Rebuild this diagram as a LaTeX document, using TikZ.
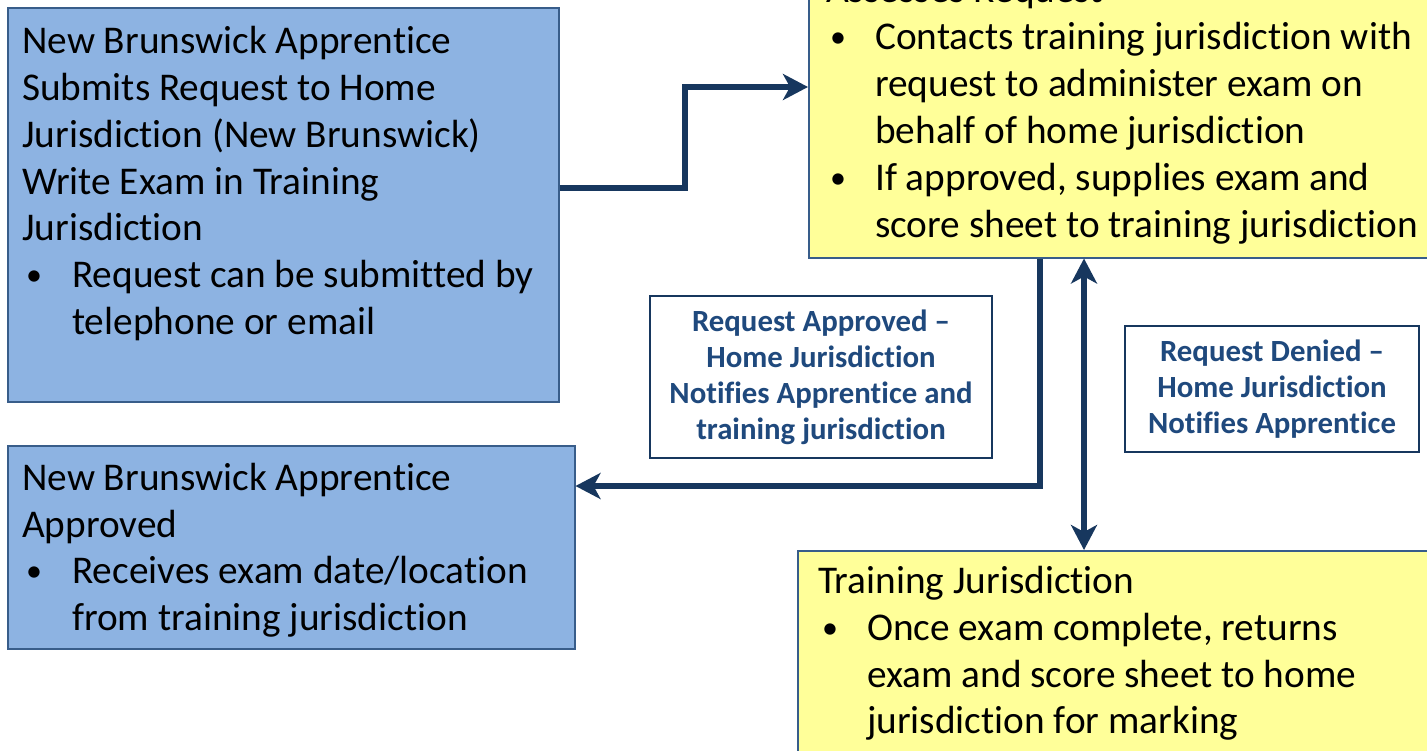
\documentclass[tikz,border=0pt]{standalone}
\usepackage{fontspec}
\setmainfont[Ligatures={NoCommon}]{Carlito}
\usetikzlibrary{arrows.meta}
\definecolor{bluefill}{HTML}{8DB3E2}
\definecolor{yellowfill}{HTML}{FFFF99}
\definecolor{boxedge}{HTML}{385D8A}
\definecolor{navy}{HTML}{17375E}
\definecolor{labeltext}{HTML}{1F497D}
\tikzset{
  box/.style={draw=boxedge, line width=1.5pt, rectangle, anchor=north west, inner sep=0pt},
  bluebox/.style={box, fill=bluefill},
  yellowbox/.style={box, fill=yellowfill},
  txt/.style={anchor=base west, inner sep=0pt, font=\fontsize{39.3}{47}\selectfont, text=black},
  bul/.style={anchor=base west, inner sep=0pt, font=\fontsize{32}{47}\selectfont, text=black},
  lbl/.style={draw=navy, line width=1.5pt, fill=white, align=center, inner sep=0pt,
    text=labeltext, font=\fontsize{30.8}{36}\selectfont\bfseries},
  conn/.style={draw=navy, line width=6pt},
  tip/.tip={Stealth[length=25pt,width=26pt,inset=7pt]}
}
\begin{document}
\begin{tikzpicture}[x=1pt,y=-1pt]
\useasboundingbox (0,0) rectangle (1427,750);
\clip (0,0) rectangle (1427,750);
% boxes
\node[bluebox, minimum width=551pt, minimum height=394pt] (A) at (7,7) {};
\node[bluebox, minimum width=567pt, minimum height=203pt] (B) at (7,445) {};
\node[yellowbox, minimum width=640pt, minimum height=297pt] (C) at (808,-40) {};
\node[yellowbox, minimum width=650pt, minimum height=250pt] (D) at (797,550) {};
% box A text
\node[txt] (a1) at (22,53) {New Brunswick Apprentice};
\node[txt] (a2) at (22,100) {Submits Request to Home};
\node[txt] (a3) at (22,147) {Jurisdiction (New Brunswick)};
\node[txt] (a4) at (22,194) {Write Exam in Training};
\node[txt] (a5) at (22,240) {Jurisdiction};
\node[bul] (ab1) at (26,285) {•};
\node[txt] (a6) at (72,287) {Request can be submitted by};
\node[txt] (a7) at (72,334) {telephone or email};
% box B text
\node[txt] (b1) at (22,490) {New Brunswick Apprentice};
\node[txt] (b2) at (22,537) {Approved};
\node[bul] (bb1) at (26,581) {•};
\node[txt] (b3) at (72,583) {Receives exam date/location};
\node[txt] (b4) at (72,630) {from training jurisdiction};
% box C text
\node[txt] (c0) at (826,2) {Assesses Request};
\node[bul] (cb1) at (830,47) {•};
\node[txt] (c1) at (875,49) {Contacts training jurisdiction with};
\node[txt] (c2) at (875,96) {request to administer exam on};
\node[txt] (c3) at (875,143) {behalf of home jurisdiction};
\node[bul] (cb2) at (830,188) {•};
\node[txt] (c4) at (875,190) {If approved, supplies exam and};
\node[txt] (c5) at (875,237) {score sheet to training jurisdiction};
% box D text
\node[txt] (d0) at (818,593) {Training Jurisdiction};
\node[bul] (db1) at (822,638) {•};
\node[txt] (d1) at (867,640) {Once exam complete, returns};
\node[txt] (d2) at (867,687) {exam and score sheet to home};
\node[txt] (d3) at (867,733) {jurisdiction for marking};
% labels
\node[lbl, minimum width=342pt, minimum height=162pt] (L1) at (821,377)
  {Request Approved –\\Home Jurisdiction\\Notifies Apprentice and\\training jurisdiction};
\node[lbl, minimum width=294pt, minimum height=126pt] (L2) at (1272,389)
  {Request Denied –\\Home Jurisdiction\\Notifies Apprentice};
% connectors
\coordinate (k1) at (685,188);
\coordinate (k2) at (685,87);
\coordinate (k3) at (1040,486);
\coordinate (k4) at (1084,0);
\draw[conn, -tip] (A.east |- k1) -- (k1) -- (k2) -- (C.west |- k2);
\draw[conn, -tip] (C.south -| k3) -- (k3) -- (B.east |- k3);
\draw[conn, tip-tip] (C.south -| k4) -- (D.north -| k4);
\end{tikzpicture}
\end{document}
